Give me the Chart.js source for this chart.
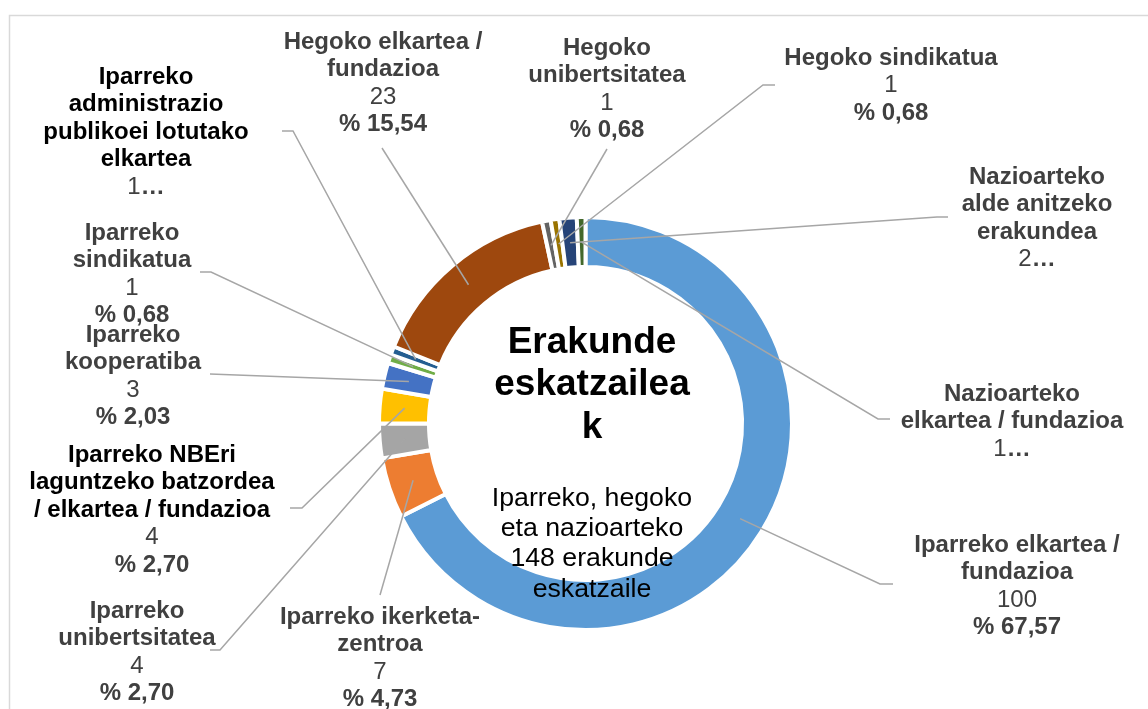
<!DOCTYPE html>
<html>
<head>
<meta charset="utf-8">
<script src="https://cdn.jsdelivr.net/npm/chart.js@4.4.1/dist/chart.umd.min.js"></script>
<style>
  html, body { margin: 0; padding: 0; background: #fff; }
  canvas { display: block; }
</style>
</head>
<body>
<canvas id="myChart" width="1148" height="709"></canvas>
<script>
// Erakunde eskatzaileak (148)
const categories = [
    'Iparreko elkartea / fundazioa',
    'Iparreko ikerketa-zentroa',
    'Iparreko unibertsitatea',
    'Iparreko NBEri laguntzeko batzordea / elkartea / fundazioa',
    'Iparreko kooperatiba',
    'Iparreko sindikatua',
    'Iparreko administrazio publikoei lotutako elkartea',
    'Hegoko elkartea / fundazioa',
    'Hegoko unibertsitatea',
    'Hegoko sindikatua',
    'Nazioarteko alde anitzeko erakundea',
    'Nazioarteko elkartea / fundazioa'
];
const values = [100, 7, 4, 4, 3, 1, 1, 23, 1, 1, 2, 1];

// label text wrapped as in the picture
const labelLines = [
    ['Iparreko elkartea /', 'fundazioa'],
    ['Iparreko ikerketa-', 'zentroa'],
    ['Iparreko', 'unibertsitatea'],
    ['Iparreko NBEri', 'laguntzeko batzordea', '/ elkartea / fundazioa'],
    ['Iparreko', 'kooperatiba'],
    ['Iparreko', 'sindikatua'],
    ['Iparreko', 'administrazio', 'publikoei lotutako', 'elkartea'],
    ['Hegoko elkartea /', 'fundazioa'],
    ['Hegoko', 'unibertsitatea'],
    ['Hegoko sindikatua'],
    ['Nazioarteko', 'alde anitzeko', 'erakundea'],
    ['Nazioarteko', 'elkartea / fundazioa']
];
// labels cut short ("1…") in the picture
const cutLabels = [6, 10, 11];

const centerTitle = ['Erakunde', 'eskatzailea', 'k'];
const centerText = ['Iparreko, hegoko', 'eta nazioarteko', '148 erakunde', 'eskatzaile'];

const total = values.reduce((a, b) => a + b, 0);

function pct(v) {
    return '% ' + (v / total * 100).toFixed(2).replace('.', ',');
}

// label placement: text centre x, first line y, leader points (label side first)
const labelPos = [
    [1017, 545, [[893, 584], [880, 584]]],
    [380, 617, [[380, 595]]],
    [137, 611, [[210, 650], [220, 650]]],
    [152, 455, [[290, 508], [302, 508]]],
    [133, 335, [[210, 374]]],
    [132, 233, [[200, 272], [211, 272]]],
    [146, 77, [[282, 131], [293, 131]]],
    [383, 42, [[382, 148]]],
    [607, 48, [[607, 149]]],
    [891, 58, [[775, 85], [763, 85]]],
    [1037, 177, [[948, 217], [937, 217]]],
    [1012, 394, [[890, 419], [878, 419]]]
];

const FONT = '"Liberation Sans", Arial, sans-serif';
const LH = 27.5;

const outLabels = {
    id: 'outLabels',
    beforeDraw(chart) {
        const c = chart.ctx;
        c.save();
        c.strokeStyle = '#d9d9d9';
        c.lineWidth = 1.5;
        c.strokeRect(9.5, 15.5, 1400, 900);
        c.restore();
    },
    afterDraw(chart) {
        const c = chart.ctx;
        const arcs = chart.getDatasetMeta(0).data;
        c.save();

        // leader lines
        c.strokeStyle = '#a6a6a6';
        c.lineWidth = 1.5;
        arcs.forEach(function(arc, i) {
            const p = arc.getProps(['x', 'y', 'startAngle', 'endAngle', 'innerRadius', 'outerRadius'], true);
            const a = (p.startAngle + p.endAngle) / 2;
            const r = (p.innerRadius + p.outerRadius) / 2;
            const pts = labelPos[i][2];
            c.beginPath();
            c.moveTo(pts[0][0], pts[0][1]);
            for (let k = 1; k < pts.length; k++) {
                c.lineTo(pts[k][0], pts[k][1]);
            }
            c.lineTo(p.x + Math.cos(a) * r, p.y + Math.sin(a) * r);
            c.stroke();
        });

        // label texts
        c.textAlign = 'center';
        c.textBaseline = 'middle';
        labelLines.forEach(function(lines, i) {
            const cx = labelPos[i][0];
            let y = labelPos[i][1];
            c.font = 'bold 24px ' + FONT;
            c.fillStyle = (i === 3 || i === 6) ? '#000000' : '#404040';
            lines.forEach(function(t) {
                c.fillText(t, cx, y);
                y += LH;
            });
            c.fillStyle = '#404040';
            if (cutLabels.includes(i)) {
                const num = String(values[i]);
                c.font = '24px ' + FONT;
                const w1 = c.measureText(num).width;
                c.font = 'bold 24px ' + FONT;
                const w2 = c.measureText('…').width;
                const x0 = cx - (w1 + w2) / 2;
                c.textAlign = 'left';
                c.font = '24px ' + FONT;
                c.fillText(num, x0, y);
                c.font = 'bold 24px ' + FONT;
                c.fillText('…', x0 + w1, y);
                c.textAlign = 'center';
            } else {
                c.font = '24px ' + FONT;
                c.fillText(String(values[i]), cx, y);
                y += LH;
                c.font = 'bold 24px ' + FONT;
                c.fillText(pct(values[i]), cx, y);
            }
        });

        // centre text
        c.fillStyle = '#000000';
        c.textBaseline = 'alphabetic';
        c.font = 'bold 37px ' + FONT;
        [353, 395, 438].forEach(function(y, k) {
            c.fillText(centerTitle[k], 592, y);
        });
        c.font = '26.7px ' + FONT;
        [506, 536, 566, 597].forEach(function(y, k) {
            c.fillText(centerText[k], 592, y);
        });

        c.restore();
    }
};

const $ctx = document.getElementById('myChart');

const $myChart = new Chart($ctx, {
    type: 'doughnut',
    data: {
        labels: categories,
        datasets: [{
            data: values,
            backgroundColor: [
                '#5b9bd5', '#ed7d31', '#a5a5a5', '#ffc000', '#4472c4', '#70ad47',
                '#255e91', '#9e480e', '#636363', '#997300', '#264478', '#43682b'
            ],
            borderColor: '#ffffff',
            borderWidth: 4,
            borderJoinStyle: 'round',
            hoverOffset: 0
        }]
    },
    options: {
        responsive: false,
        animation: false,
        radius: 206.5,
        cutout: 153.5,
        layout: {
            padding: { left: 381, right: 358, top: 219, bottom: 81 }
        },
        plugins: {
            legend: { display: false },
            tooltip: { enabled: false }
        }
    },
    plugins: [outLabels]
});
</script>
</body>
</html>
